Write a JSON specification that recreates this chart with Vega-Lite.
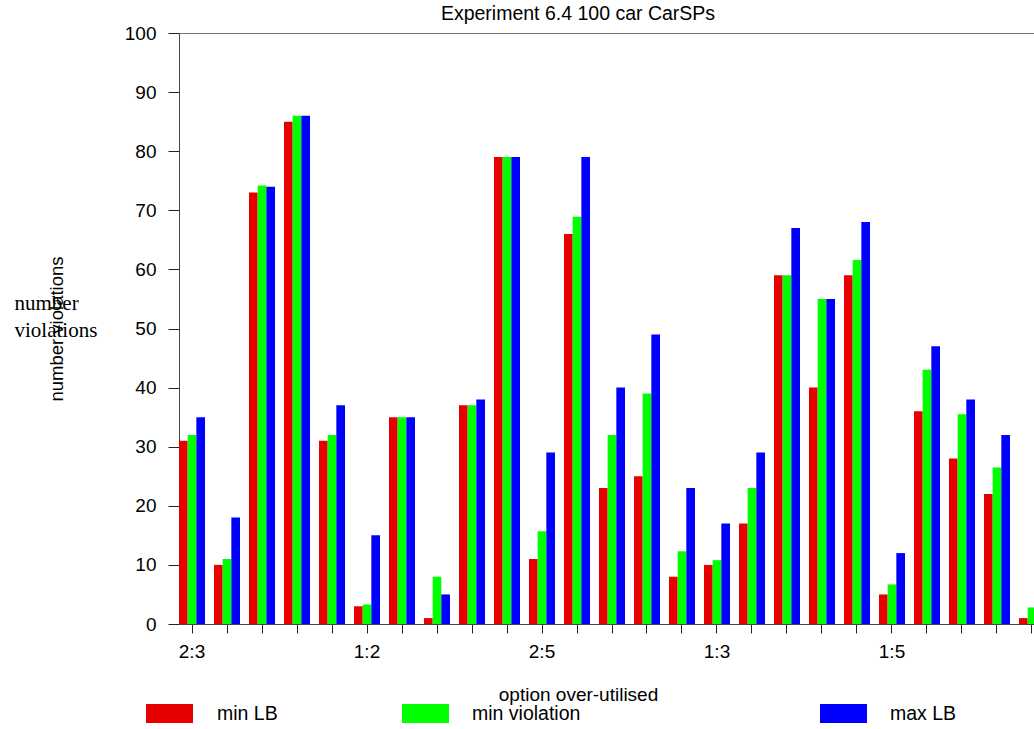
{
  "$schema": "https://vega.github.io/schema/vega-lite/v6.json",
  "autosize": {"type": "none"},
  "padding": {"left": 179, "top": 33, "right": 57, "bottom": 105},
  "width": 798,
  "height": 591,
  "background": "white",
  "title": {"text": "Experiment 6.4 100 car CarSPs", "font": "Liberation Sans", "fontSize": 19.5, "fontWeight": "normal", "color": "black", "anchor": "middle", "frame": "group", "offset": 10, "baseline": "alphabetic", "dy": 25},
  "config": {"view": {"stroke": null}, "axis": {"grid": false}},
  "data": {"values": [
    {"g": 1, "s": "min LB", "v": 31}, {"g": 1, "s": "min violation", "v": 32}, {"g": 1, "s": "max LB", "v": 35},
    {"g": 2, "s": "min LB", "v": 10}, {"g": 2, "s": "min violation", "v": 11}, {"g": 2, "s": "max LB", "v": 18},
    {"g": 3, "s": "min LB", "v": 73}, {"g": 3, "s": "min violation", "v": 74.2}, {"g": 3, "s": "max LB", "v": 74},
    {"g": 4, "s": "min LB", "v": 85}, {"g": 4, "s": "min violation", "v": 86}, {"g": 4, "s": "max LB", "v": 86},
    {"g": 5, "s": "min LB", "v": 31}, {"g": 5, "s": "min violation", "v": 32}, {"g": 5, "s": "max LB", "v": 37},
    {"g": 6, "s": "min LB", "v": 3}, {"g": 6, "s": "min violation", "v": 3.3}, {"g": 6, "s": "max LB", "v": 15},
    {"g": 7, "s": "min LB", "v": 35}, {"g": 7, "s": "min violation", "v": 35}, {"g": 7, "s": "max LB", "v": 35},
    {"g": 8, "s": "min LB", "v": 1}, {"g": 8, "s": "min violation", "v": 8}, {"g": 8, "s": "max LB", "v": 5},
    {"g": 9, "s": "min LB", "v": 37}, {"g": 9, "s": "min violation", "v": 37}, {"g": 9, "s": "max LB", "v": 38},
    {"g": 10, "s": "min LB", "v": 79}, {"g": 10, "s": "min violation", "v": 79}, {"g": 10, "s": "max LB", "v": 79},
    {"g": 11, "s": "min LB", "v": 11}, {"g": 11, "s": "min violation", "v": 15.7}, {"g": 11, "s": "max LB", "v": 29},
    {"g": 12, "s": "min LB", "v": 66}, {"g": 12, "s": "min violation", "v": 68.9}, {"g": 12, "s": "max LB", "v": 79},
    {"g": 13, "s": "min LB", "v": 23}, {"g": 13, "s": "min violation", "v": 32}, {"g": 13, "s": "max LB", "v": 40},
    {"g": 14, "s": "min LB", "v": 25}, {"g": 14, "s": "min violation", "v": 39}, {"g": 14, "s": "max LB", "v": 49},
    {"g": 15, "s": "min LB", "v": 8}, {"g": 15, "s": "min violation", "v": 12.3}, {"g": 15, "s": "max LB", "v": 23},
    {"g": 16, "s": "min LB", "v": 10}, {"g": 16, "s": "min violation", "v": 10.8}, {"g": 16, "s": "max LB", "v": 17},
    {"g": 17, "s": "min LB", "v": 17}, {"g": 17, "s": "min violation", "v": 23}, {"g": 17, "s": "max LB", "v": 29},
    {"g": 18, "s": "min LB", "v": 59}, {"g": 18, "s": "min violation", "v": 59}, {"g": 18, "s": "max LB", "v": 67},
    {"g": 19, "s": "min LB", "v": 40}, {"g": 19, "s": "min violation", "v": 55}, {"g": 19, "s": "max LB", "v": 55},
    {"g": 20, "s": "min LB", "v": 59}, {"g": 20, "s": "min violation", "v": 61.6}, {"g": 20, "s": "max LB", "v": 68},
    {"g": 21, "s": "min LB", "v": 5}, {"g": 21, "s": "min violation", "v": 6.7}, {"g": 21, "s": "max LB", "v": 12},
    {"g": 22, "s": "min LB", "v": 36}, {"g": 22, "s": "min violation", "v": 43}, {"g": 22, "s": "max LB", "v": 47},
    {"g": 23, "s": "min LB", "v": 28}, {"g": 23, "s": "min violation", "v": 35.5}, {"g": 23, "s": "max LB", "v": 38},
    {"g": 24, "s": "min LB", "v": 22}, {"g": 24, "s": "min violation", "v": 26.5}, {"g": 24, "s": "max LB", "v": 32},
    {"g": 25, "s": "min LB", "v": 1}, {"g": 25, "s": "min violation", "v": 2.8}, {"g": 25, "s": "max LB", "v": 4}
  ]},
  "resolve": {"scale": {"color": "independent"}, "axis": {"x": "independent", "y": "independent"}},
  "layer": [
    {
      "transform": [{"filter": "datum.s === 'min LB'"}],
      "mark": {"type": "bar"},
      "encoding": {
        "x": {"field": "g", "type": "ordinal", "scale": {"range": [0, 866], "paddingInner": 0.257, "paddingOuter": 0},
          "axis": {"orient": "bottom", "tickSize": 9, "labelPadding": 9, "labelAngle": 0, "labelFontSize": 19, "labelFont": "Liberation Sans", "labelColor": "black", "labelOverlap": false,
            "labelExpr": "datum.value == 1 ? '2:3' : datum.value == 6 ? '1:2' : datum.value == 11 ? '2:5' : datum.value == 16 ? '1:3' : datum.value == 21 ? '1:5' : ''",
            "domainColor": "#444", "tickColor": "#222",
            "title": "option over-utilised", "titleFont": "Liberation Sans", "titleFontSize": 19, "titleFontWeight": "normal", "titleColor": "black", "titleX": 399, "titleY": 76, "titleAlign": "center", "titleBaseline": "alphabetic"}},
        "xOffset": {"field": "s", "type": "nominal", "scale": {"domain": ["min LB", "min violation", "max LB"], "paddingInner": 0, "paddingOuter": 0}},
        "y": {"field": "v", "type": "quantitative", "scale": {"domain": [0, 100], "nice": false},
          "axis": {"orient": "left", "values": [0, 10, 20, 30, 40, 50, 60, 70, 80, 90, 100], "tickSize": 11, "labelPadding": 12, "labelFontSize": 19, "labelFont": "Liberation Sans", "labelColor": "black", "domainColor": "#444", "tickColor": "#222",
            "title": "number violations", "titleFont": "Liberation Sans", "titleFontSize": 18.5, "titleFontWeight": "normal", "titleColor": "black", "titleX": -117, "titleY": 295.5, "titleAngle": -90, "titleAlign": "center", "titleBaseline": "alphabetic"}},
        "color": {"field": "s", "type": "nominal", "scale": {"domain": ["min LB"], "range": ["#e60000"]},
          "legend": {"orient": "none", "legendX": -33, "legendY": 657, "title": null, "padding": 0, "symbolType": "M-1,-0.4H1V0.4H-1Z", "symbolSize": 2209, "symbolStrokeWidth": 0, "symbolOpacity": 1, "labelOffset": 24, "labelFontSize": 19.5, "labelFont": "Liberation Sans", "labelColor": "black"}}
      }
    },
    {
      "transform": [{"filter": "datum.s === 'min violation'"}],
      "mark": {"type": "bar"},
      "encoding": {
        "x": {"field": "g", "type": "ordinal", "axis": {"orient": "top", "labels": false, "ticks": false, "domainColor": "#777", "title": null}},
        "xOffset": {"field": "s", "type": "nominal"},
        "y": {"field": "v", "type": "quantitative",
          "axis": {"orient": "right", "labels": false, "ticks": false, "domain": false, "grid": false,
            "title": ["number", "violations"], "titleAngle": 0, "titleX": -963, "titleY": 270, "titleAlign": "left", "titleBaseline": "middle", "titleFont": "Liberation Serif", "titleFontSize": 21, "titleFontWeight": "normal", "titleLineHeight": 27, "titleColor": "black"}},
        "color": {"field": "s", "type": "nominal", "scale": {"domain": ["min violation"], "range": ["#00ff00"]},
          "legend": {"orient": "none", "legendX": 223, "legendY": 657, "title": null, "padding": 0, "symbolType": "M-1,-0.4H1V0.4H-1Z", "symbolSize": 2209, "symbolStrokeWidth": 0, "symbolOpacity": 1, "labelOffset": 23, "labelFontSize": 19.5, "labelFont": "Liberation Sans", "labelColor": "black"}}
      }
    },
    {
      "transform": [{"filter": "datum.s === 'max LB'"}],
      "mark": {"type": "bar"},
      "encoding": {
        "x": {"field": "g", "type": "ordinal", "axis": null},
        "xOffset": {"field": "s", "type": "nominal"},
        "y": {"field": "v", "type": "quantitative", "axis": null},
        "color": {"field": "s", "type": "nominal", "scale": {"domain": ["max LB"], "range": ["#0000ff"]},
          "legend": {"orient": "none", "legendX": 641, "legendY": 657, "title": null, "padding": 0, "symbolType": "M-1,-0.4H1V0.4H-1Z", "symbolSize": 2209, "symbolStrokeWidth": 0, "symbolOpacity": 1, "labelOffset": 23, "labelFontSize": 19.5, "labelFont": "Liberation Sans", "labelColor": "black"}}
      }
    }
  ]
}
